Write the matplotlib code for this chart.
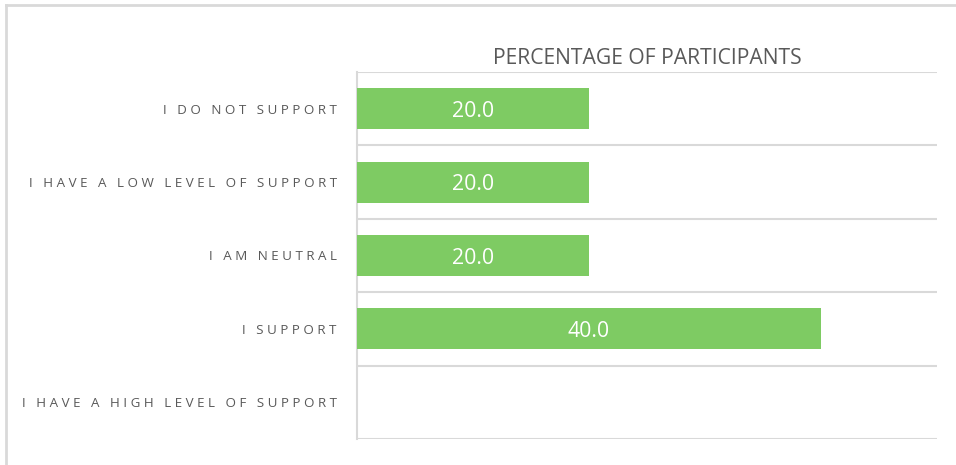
import matplotlib.pyplot as plt
from matplotlib.lines import Line2D
import numpy as np

# survey answers, top to bottom
categories = ["I DO NOT SUPPORT", "I HAVE A LOW LEVEL OF SUPPORT", "I AM NEUTRAL",
              "I SUPPORT", "I HAVE A HIGH LEVEL OF SUPPORT"]
percentages = [20.0, 20.0, 20.0, 40.0, 0.0]
title = "PERCENTAGE OF PARTICIPANTS"

bar_color = "#7ecb63"
grid_color = "#d9d9d9"
text_color = "#595959"

plt.rcParams['font.family'] = ['Open Sans', 'DejaVu Sans']


def spaced(label):
  # fake letter spacing by putting a space between every character
  return " ".join(label)


fig = plt.figure(figsize=(9.56, 4.65), dpi=100)
ax = fig.add_axes([357 / 956, 1 - 439 / 465, 580 / 956, 367 / 465])

pos = np.arange(len(categories))
bars = ax.barh(pos, percentages, height=0.56, color=bar_color, zorder=3)

# value labels inside the bars (skip empty ones)
for rect, val in zip(bars, percentages):
  if val > 0:
    ax.text(rect.get_x() + rect.get_width() / 2, rect.get_y() + rect.get_height() / 2,
            f"{val:.1f}", ha='center', va='center_baseline', color='white',
            fontsize=15.3, zorder=4)

ax.set_xlim(0, 50)
ax.set_ylim(len(categories) - 0.5, -0.5)

ax.set_yticks(pos)
ax.set_yticklabels([spaced(c) for c in categories], fontsize=9.6, color=text_color)
ax.tick_params(axis='y', length=0, pad=14.5)
ax.set_xticks([])

# separator lines between the categories
ax.set_yticks(np.arange(len(categories) + 1) - 0.5, minor=True)
ax.tick_params(axis='y', which='minor', length=0)
ax.grid(axis='y', which='minor', color=grid_color, linewidth=1.5, zorder=0)

for side in ['top', 'right', 'bottom']:
  ax.spines[side].set_visible(False)
ax.spines['left'].set_color(grid_color)
ax.spines['left'].set_linewidth(1.5)

fig.text((357 + 937) / 2 / 956, 1 - 56 / 465, title, ha='center', va='center_baseline',
         fontsize=15.2, color=text_color)

# outer chart border (only left and top show)
fig.add_artist(Line2D([6 / 956, 6 / 956], [0, 1 - 5 / 465], color=grid_color, linewidth=2))
fig.add_artist(Line2D([6 / 956, 1], [1 - 5 / 465, 1 - 5 / 465], color=grid_color, linewidth=2))

fig.savefig("out.png", dpi=100)
